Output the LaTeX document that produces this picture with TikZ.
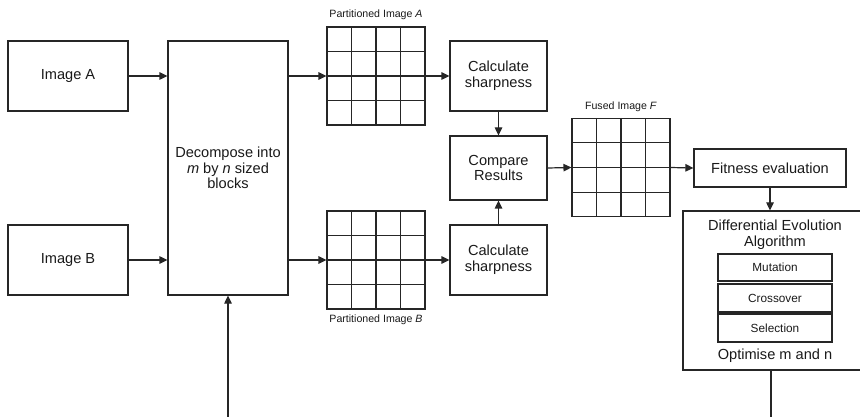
\documentclass[tikz,border=0pt]{standalone}
\usepackage{fontspec}
\setmainfont{Liberation Sans}
\usetikzlibrary{arrows.meta,calc}
\newcommand\mainfs{\fontsize{14.6}{15.7}\selectfont}
\newcommand\midfs{\fontsize{11.8}{13}\selectfont}
\newcommand\smallfs{\fontsize{10.6}{12}\selectfont}
\colorlet{lc}{black!85}
\colorlet{tc}{black!90}
\tikzset{
  box/.style={draw=lc, line width=1.2pt, inner sep=0pt, align=center, font=\mainfs, text=tc},
  subbox/.style={box, font=\midfs},
  gridbox/.style={draw=lc, line width=1.1pt, inner sep=0pt, minimum width=98pt, minimum height=98pt},
  gridline/.style={draw=lc, line width=1.1pt},
  gridlabel/.style={inner sep=0pt, font=\smallfs, text=tc},
  plain/.style={inner sep=0pt, align=center, font=\mainfs, text=tc},
  conn/.style={draw=lc, line width=1.2pt},
  arr/.style={conn, -{Triangle[length=8pt,width=7.5pt]}}
}
\begin{document}
\begin{tikzpicture}[x=1pt,y=-1pt]
\clip (0,0) rectangle (860,417);
% input images
\node[box, minimum width=120pt, minimum height=70pt] (IA) at (68,76) {Image A};
\node[box, minimum width=120pt, minimum height=70pt] (IB) at (68,260) {Image B};
% decompose
\node[box, minimum width=120pt, minimum height=254pt] (Dec) at (228,168)
  {Decompose into\\\textit{m} by \textit{n} sized\\blocks};
% grids
\node[gridbox] (GA) at (376,76) {};
\node[gridbox] (GB) at (376,260) {};
\node[gridbox] (FI) at (621,167.5) {};
\foreach \g in {GA,GB,FI}{
  \foreach \i in {1,2,3}{
    \draw[gridline] ($(\g.north west)!\i/4!(\g.north east)$) -- ($(\g.south west)!\i/4!(\g.south east)$);
    \draw[gridline] ($(\g.north west)!\i/4!(\g.south west)$) -- ($(\g.north east)!\i/4!(\g.south east)$);
  }
}
\node[gridlabel] (LA) at (376,15) {Partitioned Image \textit{A}};
\node[gridlabel] (LB) at (376,320) {Partitioned Image \textit{B}};
\node[gridlabel] (LF) at (621,107) {Fused Image \textit{F}};
% sharpness and compare
\node[box, minimum width=97pt, minimum height=70pt] (CA) at (498.5,76) {Calculate\\sharpness};
\node[box, minimum width=97pt, minimum height=64pt] (Cmp) at (498.5,168) {Compare\\Results};
\node[box, minimum width=97pt, minimum height=70pt] (CB) at (498.5,260) {Calculate\\sharpness};
% fitness and DE
\node[box, minimum width=152pt, minimum height=38pt] (Fit) at (770,168) {Fitness evaluation};
\node[box, minimum width=182pt, minimum height=159pt] (DE) at (774,290.5) {};
\node[plain] (DEt) at (775,235) {Differential Evolution\\Algorithm};
\node[subbox, minimum width=114pt, minimum height=27pt] (Mu) at (775,267.5) {Mutation};
\node[subbox, minimum width=114pt, minimum height=28pt] (Cr) at (775,298) {Crossover};
\node[subbox, minimum width=114pt, minimum height=28pt] (Se) at (775,328) {Selection};
\node[plain] (Opt) at (775,356) {Optimise m and n};
% bottom free ends
\coordinate (b1) at (228,420);
\coordinate (b2) at (771,420);
% connectors
\draw[arr] (IA.east) -- (IA.east -| Dec.west);
\draw[arr] (IB.east) -- (IB.east -| Dec.west);
\draw[arr] (Dec.east |- GA) -- (GA.west);
\draw[arr] (Dec.east |- GB) -- (GB.west);
\draw[arr] (GA.east) -- (CA.west);
\draw[arr] (GB.east) -- (CB.west);
\draw[arr] (CA.south) -- (Cmp.north);
\draw[arr] (CB.north) -- (Cmp.south);
\draw[arr] (Cmp.east) -- (FI.west);
\draw[arr] (FI.east) -- (Fit.west);
\draw[arr] (Fit.south) -- (Fit.south |- DE.north);
\draw[conn] (b2 |- DE.south) -- (b2);
\draw[arr] (b1) -- (Dec.south);
\end{tikzpicture}
\end{document}
